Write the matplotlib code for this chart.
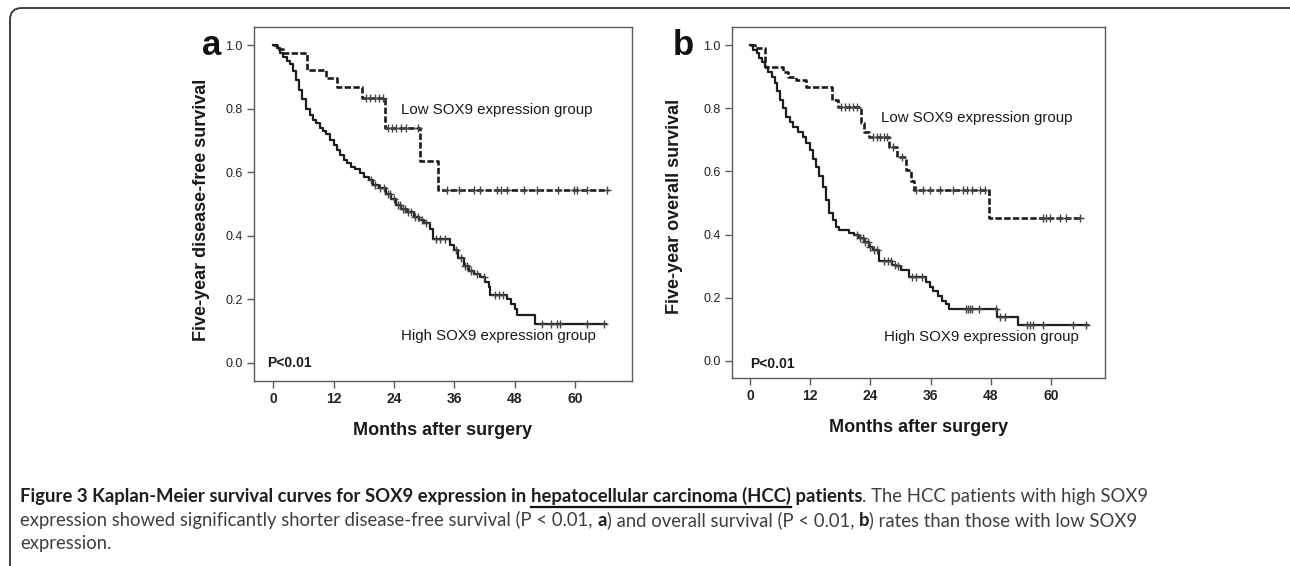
import numpy as np
import matplotlib
matplotlib.use('Agg')
from matplotlib import pyplot as plt
from matplotlib import font_manager
from matplotlib.patches import FancyBboxPatch
from matplotlib.lines import Line2D
from matplotlib.font_manager import FontProperties

W, H = 1290, 566

# ---- data ----
# panel a, disease-free survival
low_a_t = [0, 0.8, 2.0, 6.8, 10.6, 12.6, 17.6, 22.2, 29.2, 32.8]
low_a_s = [1.0, 0.987, 0.974, 0.921, 0.895, 0.869, 0.835, 0.74, 0.636, 0.545]
low_a_end = 66.5
low_a_cens = [18.4, 19.3, 20.2, 21.0, 21.8, 22.8, 23.6, 24.5, 25.4, 26.3, 28.7,
              34.6, 36.9, 39.9, 41.2, 44.5, 45.2, 46.5, 49.8, 52.5, 56.5, 59.8,
              60.4, 62.4, 66.4]

high_a_t = [0, 0.8, 1.3, 2.0, 2.8, 3.3, 3.9, 4.6, 5.2, 5.8, 6.6, 7.3, 8.0, 8.6,
            9.3, 10.0, 10.6, 11.3, 12.0, 12.6, 13.3, 14.0, 14.6, 15.5, 16.3, 17.2,
            18.0, 19.0, 19.9, 21.0, 22.5, 23.5, 24.5, 25.5, 26.5, 27.9, 29.0, 30.0,
            31.2, 31.8, 35.1, 35.9, 36.8, 37.9, 39.0, 40.0, 41.2, 42.0, 42.8, 43.1,
            46.5, 47.2, 48.0, 48.5, 52.1]
high_a_s = [1.0, 0.99, 0.975, 0.963, 0.95, 0.94, 0.92, 0.89, 0.86, 0.83, 0.80, 0.78,
            0.765, 0.755, 0.74, 0.73, 0.72, 0.70, 0.685, 0.67, 0.655, 0.64, 0.628,
            0.615, 0.61, 0.597, 0.585, 0.575, 0.56, 0.55, 0.53, 0.515, 0.497, 0.485,
            0.475, 0.46, 0.45, 0.44, 0.42, 0.39, 0.37, 0.355, 0.33, 0.305, 0.29, 0.28,
            0.27, 0.255, 0.24, 0.215, 0.20, 0.185, 0.17, 0.152, 0.122]
high_a_end = 66.1
high_a_cens = [19.5, 20.3, 21.2, 22.0, 22.8, 23.3, 24.0, 24.8, 25.3, 25.8, 26.2, 26.8,
               27.4, 28.2, 28.8, 29.6, 30.4, 32.3, 33.2, 34.2, 36.3, 37.3, 38.2, 38.6,
               39.4, 40.5, 41.8, 44.0, 44.8, 45.6, 53.5, 55.3, 56.3, 57.0, 62.4, 65.7]

# panel b, overall survival
low_b_t = [0, 0.9, 3.0, 6.6, 7.6, 9.2, 11.2, 16.4, 17.5, 22.1, 22.8, 23.8, 27.8,
           29.4, 31.1, 32.1, 32.8, 47.7]
low_b_s = [1.0, 0.99, 0.93, 0.916, 0.90, 0.889, 0.866, 0.826, 0.805, 0.752, 0.726,
           0.71, 0.678, 0.647, 0.604, 0.568, 0.541, 0.451]
low_b_end = 66.1
low_b_cens = [18.2, 19.0, 19.8, 20.5, 21.3, 24.5, 25.3, 26.0, 26.8, 27.4, 28.6, 30.3,
              33.2, 34.4, 35.9, 37.9, 40.5, 42.4, 43.2, 44.2, 45.8, 46.8, 58.5, 59.1,
              59.8, 61.8, 63.1, 65.8]

high_b_t = [0, 0.6, 1.3, 1.8, 2.3, 3.0, 3.6, 4.3, 4.9, 5.4, 5.9, 6.5, 7.2, 7.9, 8.6,
            9.5, 10.5, 11.2, 11.9, 12.5, 13.2, 13.8, 14.5, 15.1, 15.8, 16.5, 17.2,
            17.8, 19.8, 20.8, 21.8, 22.8, 23.8, 24.5, 25.8, 28.4, 29.1, 30.1, 31.8,
            35.1, 35.8, 36.4, 37.4, 38.3, 39.1, 39.7, 49.3, 53.4]
high_b_s = [1.0, 0.985, 0.974, 0.96, 0.947, 0.93, 0.916, 0.90, 0.879, 0.855, 0.826,
            0.80, 0.773, 0.755, 0.742, 0.726, 0.71, 0.69, 0.668, 0.64, 0.615, 0.585,
            0.552, 0.51, 0.467, 0.445, 0.425, 0.415, 0.405, 0.398, 0.39, 0.375, 0.362,
            0.35, 0.315, 0.305, 0.30, 0.288, 0.267, 0.25, 0.235, 0.22, 0.204, 0.19,
            0.18, 0.164, 0.14, 0.114]
high_b_end = 67.4
high_b_cens = [21.3, 22.0, 22.5, 23.0, 23.5, 24.0, 24.8, 25.3, 26.8, 27.5, 28.2, 29.0,
               29.6, 32.3, 33.2, 34.3, 43.0, 43.4, 43.8, 44.2, 45.6, 49.0, 49.8, 50.8,
               55.2, 55.8, 56.5, 58.5, 64.4, 67.1]

x_ticks = [0, 12, 24, 36, 48, 60]
y_ticks = [0.0, 0.2, 0.4, 0.6, 0.8, 1.0]
ylabels = ['Five-year disease-free survival', 'Five-year overall survival']
panel_letters = ['a', 'b']


def pick(names):
    have = set(f.name for f in font_manager.fontManager.ttflist)
    for n in names:
        if n in have:
            return n
    return 'DejaVu Sans'


CHART_FONT = pick(['Liberation Sans', 'Arimo', 'DejaVu Sans'])
NARROW_FONT = pick(['Liberation Sans Narrow', 'Liberation Sans', 'DejaVu Sans'])
CAP_FONT = pick(['Lato', 'Open Sans', 'Noto Sans', 'DejaVu Sans'])
plt.rcParams['font.family'] = CHART_FONT

LINE_C = '#1c1c1c'
SPINE_C = '#5a5a5a'


def km(ax, t, s, t_end, cens, dashed):
    tt = list(t) + [t_end]
    ss = list(s) + [s[-1]]
    if dashed:
        ax.step(tt, ss, where='post', color=LINE_C, lw=1.9, ls=(0, (2.4, 0.9)))
    else:
        ax.step(tt, ss, where='post', color=LINE_C, lw=1.6)
    idx = np.searchsorted(t, cens, side='right') - 1
    ax.plot(cens, np.array(s)[idx], ls='none', marker='+', ms=5.5, mew=1.0,
            color='#444444')


fig = plt.figure(figsize=(W / 100, H / 100), dpi=100)

# axes boxes (pixel geometry from the reference)
boxes = [(254, 27, 632, 381), (732, 27, 1105, 378)]
xlims = [(-3.8, 71.3), (-3.6, 70.8)]
ylims = [(-0.057, 1.057), (-0.054, 1.057)]
curves = [
    (low_a_t, low_a_s, low_a_end, low_a_cens, high_a_t, high_a_s, high_a_end, high_a_cens),
    (low_b_t, low_b_s, low_b_end, low_b_cens, high_b_t, high_b_s, high_b_end, high_b_cens),
]
low_pos = [(25.4, 0.796), (26.2, 0.769)]
high_pos = [(25.4, 0.085), (26.7, 0.077)]
p_pos = [(-1.2, 0.0), (0.0, -0.01)]
ylab_xy = [(-0.116, 0.483), (-0.131, 0.49)]
letter_x = [212, 683]

for i in range(2):
    l, t, r, b = boxes[i]
    ax = fig.add_axes([l / W, 1 - b / H, (r - l) / W, (b - t) / H])
    c = curves[i]
    km(ax, c[0], c[1], c[2], c[3], True)
    km(ax, c[4], c[5], c[6], c[7], False)
    ax.set_xlim(*xlims[i])
    ax.set_ylim(*ylims[i])
    ax.set_xticks(x_ticks)
    ax.set_yticks(y_ticks)
    ax.set_yticklabels(['%.1f' % v for v in y_ticks], fontsize=9, color='#222222')
    ax.set_xticklabels([str(v) for v in x_ticks], fontsize=10, fontweight='bold',
                       family=NARROW_FONT, color='#222222')
    ax.tick_params(direction='out', length=5, width=1, color=SPINE_C, pad=3)
    for sp in ax.spines.values():
        sp.set_color(SPINE_C)
        sp.set_linewidth(1.0)
    ax.set_ylabel(ylabels[i], fontsize=13, fontweight='bold', color='#1a1a1a')
    ax.yaxis.set_label_coords(*ylab_xy[i])
    ax.set_xlabel('Months after surgery', fontsize=13, fontweight='bold', color='#1a1a1a')
    ax.xaxis.set_label_coords(0.5, -0.116)
    ax.text(low_pos[i][0], low_pos[i][1], 'Low SOX9 expression group', fontsize=10.8,
            va='center', ha='left', color='#1a1a1a')
    ax.text(high_pos[i][0], high_pos[i][1], 'High SOX9 expression group', fontsize=10.8,
            va='center', ha='left', color='#1a1a1a')
    ax.text(p_pos[i][0], p_pos[i][1], 'P<0.01', fontsize=10, fontweight='bold',
            va='center', ha='left', color='#1a1a1a')
    fig.text(letter_x[i] / W, 1 - 55 / H, panel_letters[i], fontsize=25,
             fontweight='bold', ha='center', va='baseline', color='#111111')

# rounded frame (only top and left edges show)
frame = FancyBboxPatch((10 / W, -0.05), 1.1, 1.05 - 8 / H,
                       boxstyle='round,pad=0,rounding_size=0.009',
                       mutation_aspect=W / H, transform=fig.transFigure,
                       fill=False, ec='#333333', lw=1.3, clip_on=False)
fig.patches.append(frame)

# ---- caption with mixed weights ----
renderer = fig.canvas.get_renderer()
BOLD_C = '#1e1e1e'
NORM_C = '#3e3e3e'

line1 = [('Figure 3 Kaplan-Meier survival curves for SOX9 expression in ', 'bold', False),
         ('hepatocellular carcinoma (HCC)', 'bold', True),
         (' patients', 'bold', False),
         ('. The HCC patients with high SOX9', 'normal', False)]
line2 = [('expression showed significantly shorter disease-free survival (P < 0.01, ', 'normal', False),
         ('a', 'bold', False),
         (') and overall survival (P < 0.01, ', 'normal', False),
         ('b', 'bold', False),
         (') rates than those with low SOX9', 'normal', False)]
line3 = [('expression.', 'normal', False)]


def advance(txt, weight, size):
    fp = FontProperties(family=CAP_FONT, weight=weight, size=size)
    w1, _, _ = renderer.get_text_width_height_descent(txt + '|', fp, ismath=False)
    w2, _, _ = renderer.get_text_width_height_descent('|', fp, ismath=False)
    return w1 - w2


def put_line(pieces, x0, base, size):
    x = x0
    for txt, weight, ul in pieces:
        col = BOLD_C if weight == 'bold' else NORM_C
        fig.text(x / W, 1 - base / H, txt, fontsize=size, fontweight=weight,
                 family=CAP_FONT, color=col, ha='left', va='baseline')
        adv = advance(txt, weight, size)
        if ul:
            fig.add_artist(Line2D([x / W, (x + adv) / W],
                                  [1 - (base + 4.5) / H, 1 - (base + 4.5) / H],
                                  transform=fig.transFigure, color='#111111', lw=1.6))
        x += adv
    return x


# fit first line to the reference width
w_test = sum(advance(p[0], p[1], 12) for p in line1)
cap_size = 12 * (1143 - 20) / w_test

put_line(line1, 20, 502, cap_size)
put_line(line2, 20, 526, cap_size)
put_line(line3, 20, 549, cap_size)

fig.savefig('out.png', dpi=100)
